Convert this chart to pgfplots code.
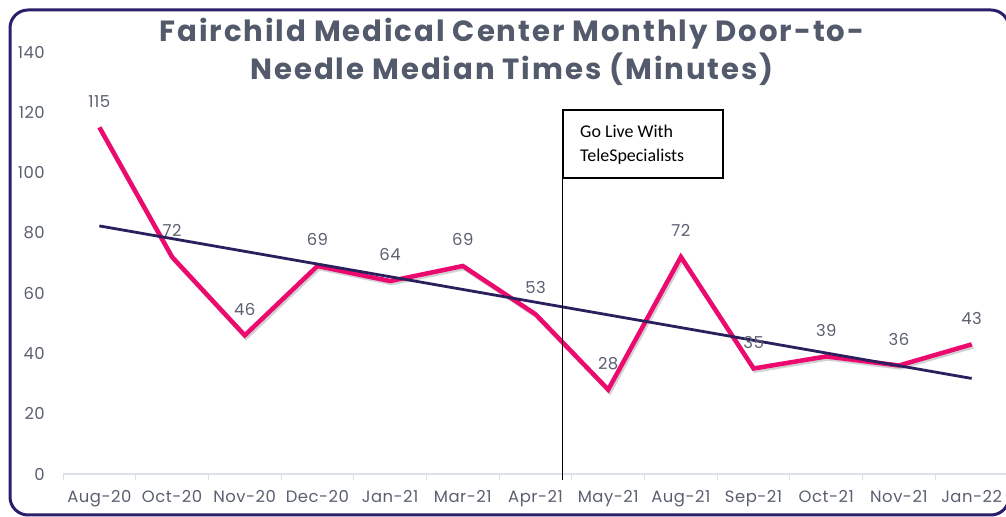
\documentclass[border=0pt]{standalone}
\usepackage{pgfplots}
\pgfplotsset{compat=1.18}
\usepackage{fontspec}
\setmainfont{Poppins}
\newfontfamily\boxfont{Carlito}
\newfontfamily\titlefont[LetterSpace=6.5]{Poppins}
\newfontfamily\labfont[LetterSpace=3]{Poppins}
\definecolor{pinkline}{HTML}{EC0A6E}
\definecolor{trendc}{HTML}{2B1F5E}
\definecolor{labelc}{HTML}{5A6070}
\definecolor{titlec}{HTML}{525A6B}
\definecolor{borderc}{HTML}{2D1E6B}
\definecolor{axisc}{HTML}{DCE0E8}
\begin{document}
\begin{tikzpicture}[x=1bp,y=1bp]
\path[use as bounding box] (0,0) rectangle (1006,517);
\begin{axis}[
  at={(63bp,43bp)}, anchor=south west,
  scale only axis, width=945bp, height=422bp,
  xmin=-0.5, xmax=12.5, ymin=0, ymax=140,
  axis x line*=bottom, axis y line*=left,
  y axis line style={draw=none},
  x axis line style={color=axisc, line width=1.2bp},
  xtick={0,...,12},
  xticklabels={Aug-20,Oct-20,Nov-20,Dec-20,Jan-21,Mar-21,Apr-21,May-21,Aug-21,Sep-21,Oct-21,Nov-21,Jan-22},
  minor xtick={-0.5,0.5,...,12.5},
  tick align=outside,
  major tick length=0pt, minor tick length=6bp,
  minor tick style={color=axisc, line width=1bp},
  ytick={0,20,...,140},
  ytick style={draw=none},
  xticklabel style={anchor=north, inner sep=0pt, yshift=-16bp, font=\labfont\fontsize{16.5}{18}\selectfont, text=labelc},
  yticklabel style={anchor=east, inner sep=0pt, xshift=-18bp, font=\labfont\fontsize{16.5}{18}\selectfont, text=labelc},
  /pgf/number format/assume math mode=true,
  clip=false,
]
\addplot[black, opacity=0.18, line width=4.5bp, xshift=1.5bp, yshift=-2bp] coordinates {
(0,115)(1,72)(2,46)(3,69)(4,64)(5,69)(6,53)(7,28)(8,72)(9,35)(10,39)(11,36)(12,43)};
\addplot[pinkline, line width=4.5bp, line join=miter,
  nodes near coords, every node near coord/.append style={anchor=south, inner sep=0pt, yshift=18bp, text=labelc, font=\labfont\fontsize{16.5}{18}\selectfont}] coordinates {
(0,115)(1,72)(2,46)(3,69)(4,64)(5,69)(6,53)(7,28)(8,72)(9,35)(10,39)(11,36)(12,43)};
\addplot[trendc, line width=2.8bp] coordinates {(0,82.3)(12,31.7)};
\addplot[black, line width=1bp] coordinates {(6.37,-2)(6.37,105.8)};
\end{axis}
\draw[black, line width=1.8bp, fill=white] (563,339) rectangle (723,407);
\node[anchor=base west, inner sep=0pt, font=\boxfont\fontsize{18}{20}\selectfont] at (580,379) {Go Live With};
\node[anchor=base west, inner sep=0pt, font=\boxfont\fontsize{18}{20}\selectfont] at (580,355) {TeleSpecialists};
\node[anchor=base, inner sep=0pt, text=titlec, font=\titlefont\bfseries\fontsize{29.3}{31}\selectfont] at (512,475) {Fairchild Medical Center Monthly Door-to-};
\node[anchor=base, inner sep=0pt, text=titlec, font=\titlefont\bfseries\fontsize{29.3}{31}\selectfont] at (512,437) {Needle Median Times (Minutes)};
\draw[borderc, line width=3bp, rounded corners=18bp] (10,2) rectangle (1009,507);
\end{tikzpicture}
\end{document}
